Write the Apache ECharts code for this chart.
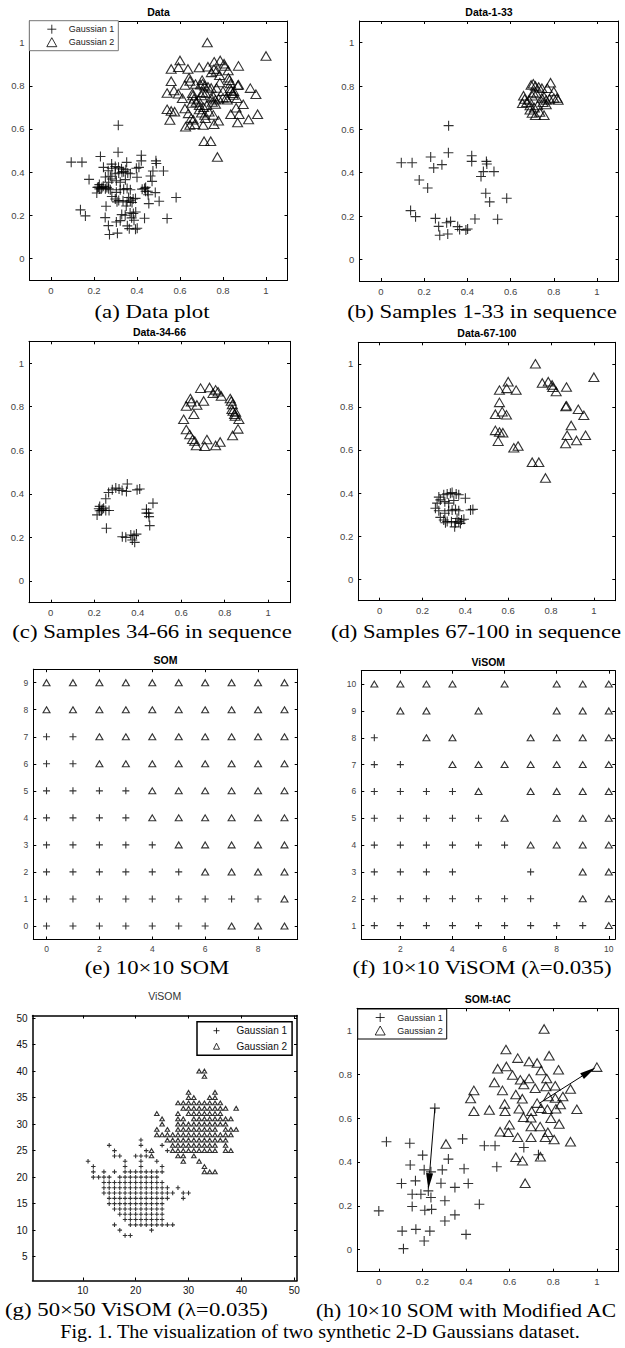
<!DOCTYPE html>
<html>
<head>
<meta charset="utf-8">
<script src="https://cdn.jsdelivr.net/npm/echarts@6/dist/echarts.min.js"></script>
<style>
  html, body { margin: 0; padding: 0; background: #fff; }
  #fig { width: 625px; height: 1348px; }
</style>
</head>
<body>
<div id="fig"></div>
<script>
// ---- data ----
// (b) samples 1-33
const g1_b = [[0.094,0.446],[0.144,0.446],[0.313,0.617],[0.312,0.492],[0.230,0.472],[0.244,0.422],[0.282,0.437],[0.177,0.366],[0.216,0.329],[0.420,0.478],[0.420,0.452],[0.488,0.452],[0.490,0.440],[0.474,0.405],[0.463,0.382],[0.523,0.405],[0.485,0.305],[0.503,0.265],[0.582,0.282],[0.540,0.185],[0.137,0.225],[0.160,0.197],[0.252,0.189],[0.267,0.152],[0.272,0.111],[0.309,0.117],[0.304,0.169],[0.322,0.175],[0.355,0.151],[0.364,0.138],[0.393,0.135],[0.401,0.140],[0.435,0.186]];
const g2_b = [[0.695,0.805],[0.705,0.81],[0.715,0.80],[0.73,0.795],[0.745,0.79],[0.77,0.79],[0.785,0.815],[0.80,0.775],[0.66,0.755],[0.665,0.74],[0.685,0.735],[0.70,0.755],[0.705,0.77],[0.72,0.765],[0.745,0.745],[0.755,0.75],[0.765,0.735],[0.78,0.74],[0.80,0.745],[0.815,0.745],[0.82,0.735],[0.655,0.72],[0.675,0.725],[0.69,0.71],[0.71,0.70],[0.725,0.71],[0.75,0.725],[0.765,0.715],[0.69,0.69],[0.70,0.675],[0.715,0.665],[0.735,0.68],[0.755,0.665]];
// (c) samples 34-66
const g1_c = [[0.221,0.331],[0.213,0.303],[0.225,0.342],[0.233,0.323],[0.243,0.334],[0.253,0.323],[0.268,0.323],[0.253,0.377],[0.266,0.406],[0.256,0.242],[0.299,0.426],[0.314,0.422],[0.328,0.415],[0.352,0.445],[0.348,0.411],[0.397,0.418],[0.409,0.422],[0.440,0.329],[0.450,0.311],[0.470,0.357],[0.452,0.295],[0.455,0.254],[0.329,0.203],[0.345,0.200],[0.368,0.211],[0.383,0.208],[0.394,0.215],[0.375,0.188],[0.386,0.177],[0.225,0.322],[0.237,0.329],[0.283,0.418],[0.440,0.311]];
const g2_c = [[0.689,0.885],[0.730,0.888],[0.758,0.877],[0.769,0.868],[0.746,0.862],[0.784,0.849],[0.825,0.837],[0.830,0.826],[0.833,0.788],[0.838,0.780],[0.845,0.765],[0.848,0.757],[0.865,0.742],[0.861,0.698],[0.836,0.668],[0.779,0.638],[0.758,0.622],[0.718,0.649],[0.708,0.618],[0.669,0.622],[0.662,0.642],[0.652,0.650],[0.639,0.672],[0.623,0.695],[0.611,0.742],[0.623,0.803],[0.642,0.837],[0.646,0.822],[0.672,0.808],[0.703,0.826],[0.658,0.765],[0.835,0.810],[0.850,0.775]];
// (d) samples 67-100
const g1_d = [[0.276,0.381],[0.299,0.392],[0.315,0.396],[0.330,0.399],[0.338,0.402],[0.357,0.396],[0.369,0.392],[0.400,0.376],[0.268,0.353],[0.283,0.368],[0.304,0.360],[0.322,0.353],[0.346,0.365],[0.260,0.329],[0.276,0.318],[0.304,0.306],[0.322,0.318],[0.338,0.321],[0.354,0.324],[0.369,0.318],[0.424,0.321],[0.435,0.324],[0.283,0.287],[0.299,0.275],[0.315,0.268],[0.335,0.267],[0.354,0.262],[0.369,0.267],[0.382,0.275],[0.393,0.278],[0.361,0.282],[0.350,0.243],[0.307,0.262],[0.377,0.259]];
const g2_d = [[0.727,1.0],[1.0,0.938],[0.600,0.917],[0.559,0.878],[0.593,0.886],[0.637,0.878],[0.787,0.917],[0.759,0.911],[0.805,0.902],[0.808,0.891],[0.824,0.871],[0.872,0.892],[0.872,0.805],[0.869,0.802],[0.927,0.789],[0.953,0.761],[0.894,0.714],[0.875,0.668],[0.961,0.668],[0.919,0.644],[0.868,0.630],[0.559,0.821],[0.540,0.766],[0.572,0.778],[0.592,0.763],[0.540,0.691],[0.559,0.683],[0.575,0.680],[0.553,0.641],[0.626,0.610],[0.646,0.618],[0.712,0.543],[0.743,0.543],[0.774,0.470]];
// (e) 10x10 SOM neurons
const som_g1 = [[0,7],[1,7],[0,6],[1,6],[0,5],[1,5],[2,5],[3,5],[0,4],[1,4],[2,4],[3,4],[0,3],[1,3],[2,3],[3,3],[4,3],[0,2],[1,2],[2,2],[3,2],[4,2],[5,2],[0,1],[1,1],[2,1],[3,1],[4,1],[5,1],[6,1],[7,1],[8,1],[0,0],[1,0],[2,0],[3,0],[4,0],[5,0],[6,0]];
const som_g2 = [[0,9],[1,9],[2,9],[3,9],[4,9],[5,9],[6,9],[7,9],[8,9],[9,9],[0,8],[1,8],[2,8],[3,8],[4,8],[5,8],[6,8],[7,8],[8,8],[9,8],[2,7],[3,7],[4,7],[5,7],[6,7],[7,7],[8,7],[9,7],[2,6],[3,6],[4,6],[5,6],[6,6],[7,6],[8,6],[9,6],[4,5],[5,5],[6,5],[7,5],[8,5],[9,5],[4,4],[5,4],[6,4],[7,4],[8,4],[9,4],[5,3],[6,3],[7,3],[8,3],[9,3],[6,2],[7,2],[8,2],[9,2],[9,1],[7,0],[8,0],[9,0]];
// (f) 10x10 ViSOM neurons
const visom_g1 = [[1,8],[1,7],[2,7],[1,6],[2,6],[3,6],[4,6],[1,5],[2,5],[3,5],[4,5],[5,5],[1,4],[2,4],[3,4],[4,4],[5,4],[6,4],[1,3],[2,3],[3,3],[4,3],[7,3],[1,2],[2,2],[3,2],[4,2],[5,2],[6,2],[7,2],[1,1],[2,1],[3,1],[4,1],[5,1],[6,1],[7,1],[8,1],[9,1]];
const visom_g2 = [[1,10],[2,10],[3,10],[4,10],[6,10],[8,10],[9,10],[10,10],[2,9],[3,9],[5,9],[8,9],[9,9],[10,9],[3,8],[4,8],[7,8],[8,8],[9,8],[10,8],[4,7],[5,7],[6,7],[7,7],[8,7],[9,7],[10,7],[5,6],[7,6],[8,6],[9,6],[10,6],[6,5],[8,5],[9,5],[10,5],[7,4],[8,4],[9,4],[10,4],[9,3],[10,3],[9,2],[10,2],[10,1]];
// (g) 50x50 ViSOM neurons, rows as [y, [x...]]
const visom50_g1_rows = [[27,[21]],[26,[15,21,25]],[25,[16,22,26]],[24,[16,17,20,21,22]],[23,[11,18,21,24]],[22,[12,18,21,25]],[21,[12,14,16,18,19,20,21,22,23,24,25]],[20,[12,13,14,15,17,18,19,20,21,22,23,24]],[19,[14,15,16,17,18,19,20,21,22,23,24,25]],[18,[14,15,16,17,18,19,20,21,22,23,24,25,26,28]],[17,[14,15,16,17,18,19,20,21,22,23,24,25,26,27,29,30]],[16,[15,16,17,18,19,20,21,22,23,24,25,26,29]],[15,[15,16,17,18,19,20,21,22,23,24,25]],[14,[16,17,18,19,20,21,22,23,24,25]],[13,[17,18,19,20,21,22,23,24,25]],[12,[18,19,20,21,22,23,24,25]],[11,[16,19,20,21,22,23,24,25,26,27]],[10,[17,23]],[9,[18,19]]];
const visom50_g2_rows = [[40,[32,33]],[39,[33]],[36,[30,35]],[35,[30,31,34,35]],[34,[28,29,30,31,32,33,34,35,36]],[33,[29,30,31,32,33,34,35,36,37,39]],[32,[24,28,30,31,32,33,34,35,36]],[31,[25,28,29,31,32,33,34,35,36,37,38]],[30,[25,28,29,30,31,32,33,34,35,36,37]],[29,[24,26,28,29,30,31,32,33,34,35,37,38,39]],[28,[24,25,26,27,28,29,30,31,32,33,34,35,36,37,38]],[27,[26,27,28,29,30,31,32,33,34,35,36,37]],[26,[27,28,29,30,31,32,33,34,35,37]],[25,[23,27,28,29,30,31,32,33,34,35,37,38]],[24,[23,28,29,31]],[23,[29,32]],[22,[33]],[21,[33,34,35]]];
// (h) SOM-tAC
const g1_h = [[0.035,0.492],[0.142,0.485],[0.201,0.431],[0.144,0.386],[0.208,0.364],[0.239,0.355],[0.291,0.364],[0.319,0.413],[0.384,0.505],[0.391,0.369],[0.257,0.645],[0.104,0.302],[0.168,0.314],[0.153,0.253],[0.193,0.253],[0.227,0.268],[0.239,0.238],[0.285,0.303],[0.349,0.284],[0.410,0.302],[0.153,0.197],[0.211,0.180],[0.242,0.184],[0.303,0.223],[0.461,0.207],[0.0,0.177],[0.107,0.085],[0.170,0.093],[0.234,0.085],[0.208,0.040],[0.303,0.131],[0.349,0.159],[0.400,0.070],[0.113,0.005],[0.484,0.474],[0.533,0.474],[0.541,0.378],[0.665,0.466],[0.732,0.433]];
const g2_h = [[0.758,1.006],[0.583,0.912],[0.781,0.884],[0.637,0.873],[0.585,0.835],[0.545,0.825],[0.689,0.858],[0.726,0.851],[0.744,0.817],[0.824,0.820],[0.613,0.796],[0.649,0.774],[0.689,0.780],[0.530,0.762],[0.665,0.753],[0.717,0.736],[0.770,0.780],[0.766,0.744],[0.809,0.747],[0.879,0.732],[0.436,0.726],[0.421,0.689],[0.567,0.726],[0.628,0.707],[0.658,0.688],[0.778,0.698],[0.809,0.691],[0.844,0.698],[0.577,0.664],[0.726,0.668],[0.833,0.662],[0.436,0.631],[0.507,0.637],[0.579,0.631],[0.643,0.642],[0.701,0.631],[0.744,0.645],[0.773,0.640],[0.812,0.642],[0.908,0.640],[0.663,0.604],[0.698,0.601],[0.789,0.599],[0.599,0.569],[0.827,0.573],[0.698,0.561],[0.740,0.561],[0.556,0.538],[0.594,0.535],[0.637,0.512],[0.698,0.512],[0.763,0.512],[0.775,0.535],[0.804,0.502],[0.879,0.492],[0.308,0.482],[0.628,0.421],[0.659,0.405],[0.741,0.424],[0.671,0.303],[1.0,0.832]];
const arrows_h = [[0.257,0.645,0.227,0.276],[0.737,0.668,0.994,0.830]];
// tick labels
const unitTicks = [0, 0.2, 0.4, 0.6, 0.8, 1];
const somXTicks = [0, 2, 4, 6, 8];
const somYTicks = [0, 1, 2, 3, 4, 5, 6, 7, 8, 9];
const visomXTicks = [2, 4, 6, 8, 10];
const visomYTicks = [1, 2, 3, 4, 5, 6, 7, 8, 9, 10];
const visom50XTicks = [10, 20, 30, 40, 50];
const visom50YTicks = [5, 10, 15, 20, 25, 30, 35, 40, 45, 50];

// ---- layout ----
const rowsToPoints = (rows) => {
  const pts = [];
  rows.forEach(([y, xs]) => xs.forEach((x) => pts.push([x, y])));
  return pts;
};

const PLUS = "path://M0,5L10,5M5,0L5,10";
const panels = [
  { box: [29.5, 21, 258, 259], x: [-0.1, 1.1], y: [-0.1, 1.1], xt: unitTicks, yt: unitTicks, title: "Data", g1: g1_b.concat(g1_c, g1_d), g2: g2_b.concat(g2_c, g2_d), ms: 10 },
  { box: [359.4, 21, 259.2, 260], x: [-0.1, 1.1], y: [-0.1, 1.1], xt: unitTicks, yt: unitTicks, title: "Data-1-33", g1: g1_b, g2: g2_b, ms: 10 },
  { box: [29, 341.3, 261, 261.4], x: [-0.1, 1.1], y: [-0.1, 1.1], xt: unitTicks, yt: unitTicks, title: "Data-34-66", g1: g1_c, g2: g2_c, ms: 10 },
  { box: [358.3, 342.3, 257, 258.4], x: [-0.1, 1.1], y: [-0.1, 1.1], xt: unitTicks, yt: unitTicks, title: "Data-67-100", g1: g1_d, g2: g2_d, ms: 10 },
  { box: [33.3, 669.2, 264.4, 270.3], x: [-0.5, 9.5], y: [-0.5, 9.5], xt: somXTicks, yt: somYTicks, title: "SOM", g1: som_g1, g2: som_g2, ms: 7, fs: 8.5 },
  { box: [361.3, 670.7, 254, 268.3], x: [0.5, 10.25], y: [0.5, 10.5], xt: visomXTicks, yt: visomYTicks, title: "ViSOM", g1: visom_g1, g2: visom_g2, ms: 7, fs: 8.5 },
  { box: [32.5, 1015.5, 264.5, 265], x: [0.5, 50.5], y: [0.5, 50.5], xt: visom50XTicks, yt: visom50YTicks, title: "ViSOM", g1: rowsToPoints(visom50_g1_rows), g2: rowsToPoints(visom50_g2_rows), ms: 4.5, fs: 10, lc: "#111", lw: 1.5, plainTitle: true },
  { box: [357, 1008.3, 261.7, 263.4], x: [-0.1, 1.1], y: [-0.1, 1.1], xt: unitTicks, yt: unitTicks, title: "SOM-tAC", g1: g1_h, g2: g2_h, ms: 10 }
];

const grid = [], xAxis = [], yAxis = [], series = [], graphic = [];
const markStyle = { color: "rgba(0,0,0,0)", borderColor: "#000", borderWidth: 1.1 };

panels.forEach((p, i) => {
  const [l, t, w, h] = p.box;
  grid.push({ left: l, top: t, width: w, height: h, containLabel: false });
  const lw = p.lw || 1;
  const line = { show: true, onZero: false, lineStyle: { color: "#000", width: lw } };
  const tick = (vals) => ({ show: true, inside: true, length: 3, customValues: vals, lineStyle: { color: "#000", width: 1 } });
  const label = (vals) => ({
    customValues: vals, fontSize: p.fs || 9.5, color: p.lc || "#444",
    fontFamily: "Liberation Sans", margin: 5
  });
  xAxis.push({ gridIndex: i, type: "value", min: p.x[0], max: p.x[1], position: "bottom", axisLine: line, axisTick: tick(p.xt), axisLabel: label(p.xt), splitLine: { show: false } });
  xAxis.push({ gridIndex: i, type: "value", min: p.x[0], max: p.x[1], position: "top", axisLine: line, axisTick: tick(p.xt), axisLabel: { show: false }, splitLine: { show: false } });
  yAxis.push({ gridIndex: i, type: "value", min: p.y[0], max: p.y[1], position: "left", axisLine: line, axisTick: tick(p.yt), axisLabel: label(p.yt), splitLine: { show: false } });
  yAxis.push({ gridIndex: i, type: "value", min: p.y[0], max: p.y[1], position: "right", axisLine: line, axisTick: tick(p.yt), axisLabel: { show: false }, splitLine: { show: false } });

  series.push({
    type: "scatter", name: "Gaussian 1", data: p.g1, xAxisIndex: 2 * i, yAxisIndex: 2 * i,
    symbol: PLUS, symbolSize: p.ms, itemStyle: markStyle, silent: true
  });
  series.push({
    type: "scatter", name: "Gaussian 2", data: p.g2, xAxisIndex: 2 * i, yAxisIndex: 2 * i,
    symbol: "triangle", symbolSize: [p.ms, p.ms * 0.85], itemStyle: markStyle, silent: true
  });

  graphic.push({
    type: "text", x: l + w / 2, y: p.plainTitle ? t - 20 : t - 9,
    style: {
      text: p.title, fill: p.plainTitle ? "#333" : "#000",
      font: (p.plainTitle ? "" : "bold ") + "10.5px 'Liberation Sans'",
      textAlign: "center", textVerticalAlign: "middle", align: "center", verticalAlign: "middle"
    }
  });
});

// arrows of panel (h)
series.push({
  type: "custom", xAxisIndex: 14, yAxisIndex: 14, data: arrows_h, silent: true,
  encode: { x: [0, 2], y: [1, 3] },
  renderItem: (params, api) => {
    const a = api.coord([api.value(0), api.value(1)]);
    const b = api.coord([api.value(2), api.value(3)]);
    const dx = b[0] - a[0], dy = b[1] - a[1];
    const len = Math.hypot(dx, dy), ux = dx / len, uy = dy / len;
    const hl = 16, hw = 3.5;
    const bx = b[0] - ux * hl, by = b[1] - uy * hl;
    return {
      type: "group",
      children: [
        { type: "line", shape: { x1: a[0], y1: a[1], x2: bx, y2: by }, style: { stroke: "#000", lineWidth: 1 } },
        { type: "polygon", shape: { points: [[b[0], b[1]], [bx - uy * hw, by + ux * hw], [bx + uy * hw, by - ux * hw]] }, style: { fill: "#000" } }
      ]
    };
  }
});

// captions (the scanned figure is stretched sideways)
const capFont = "19px 'Liberation Serif'";
const caption = (text, x, y, align, sx) => {
  graphic.push({
    type: "text", x: x, y: y, scaleX: sx || 1.2, scaleY: 1,
    style: { text: text, font: capFont, fill: "#000", textAlign: align || "center", align: align || "center", textVerticalAlign: "middle", verticalAlign: "middle" }
  });
};
caption("(a) Data plot", 152, 312);
caption("(b) Samples 1-33 in sequence", 482, 312);
caption("(c) Samples 34-66 in sequence", 152, 632);
caption("(d) Samples 67-100 in sequence", 331, 632, "left", 1.19);
caption("(e) 10\u00d710 SOM", 157, 968);
caption("(f) 10\u00d710 ViSOM (\u03bb=0.035)", 482, 968);
caption("(g) 50\u00d750 ViSOM (\u03bb=0.035)", 5, 1310, "left");
caption("(h) 10\u00d710 SOM with Modified AC", 316, 1310, "left", 1.13);
caption("Fig. 1. The visualization of two synthetic 2-D Gaussians dataset.", 320, 1332, "center", 1.06);

const legendBase = {
  orient: "vertical", selectedMode: false, backgroundColor: "#fff",
  itemStyle: { color: "rgba(0,0,0,0)", borderColor: "#000", borderWidth: 1 },
  data: [{ name: "Gaussian 1", icon: PLUS }, { name: "Gaussian 2", icon: "triangle" }]
};

const chart = echarts.init(document.getElementById("fig"), null, { renderer: "svg" });
chart.setOption({
  animation: false,
  backgroundColor: "#fff",
  grid, xAxis, yAxis, series, graphic,
  legend: [
    Object.assign({}, legendBase, {
      left: 29.3, top: 20.7, padding: [3, 4, 3, 17], itemGap: 2, itemWidth: 10, itemHeight: 9,
      borderColor: "#777", borderWidth: 1,
      textStyle: { fontSize: 9, fontFamily: "Liberation Sans", color: "#222", padding: [0, 0, 0, 7], lineHeight: 11 }
    }),
    Object.assign({}, legendBase, {
      left: 197, top: 1021.7, padding: [3, 5, 3, 16], itemGap: 3.5, itemWidth: 6, itemHeight: 6,
      borderColor: "#000", borderWidth: 1.5,
      textStyle: { fontSize: 10, fontFamily: "Liberation Sans", color: "#111", padding: [0, 0, 0, 12], lineHeight: 12 }
    }),
    Object.assign({}, legendBase, {
      left: 357.7, top: 1009, padding: [3, 4, 3, 17], itemGap: 2, itemWidth: 10, itemHeight: 9,
      borderColor: "#000", borderWidth: 1,
      textStyle: { fontSize: 9, fontFamily: "Liberation Sans", color: "#222", padding: [0, 0, 0, 7], lineHeight: 11 }
    })
  ]
});
</script>
</body>
</html>
